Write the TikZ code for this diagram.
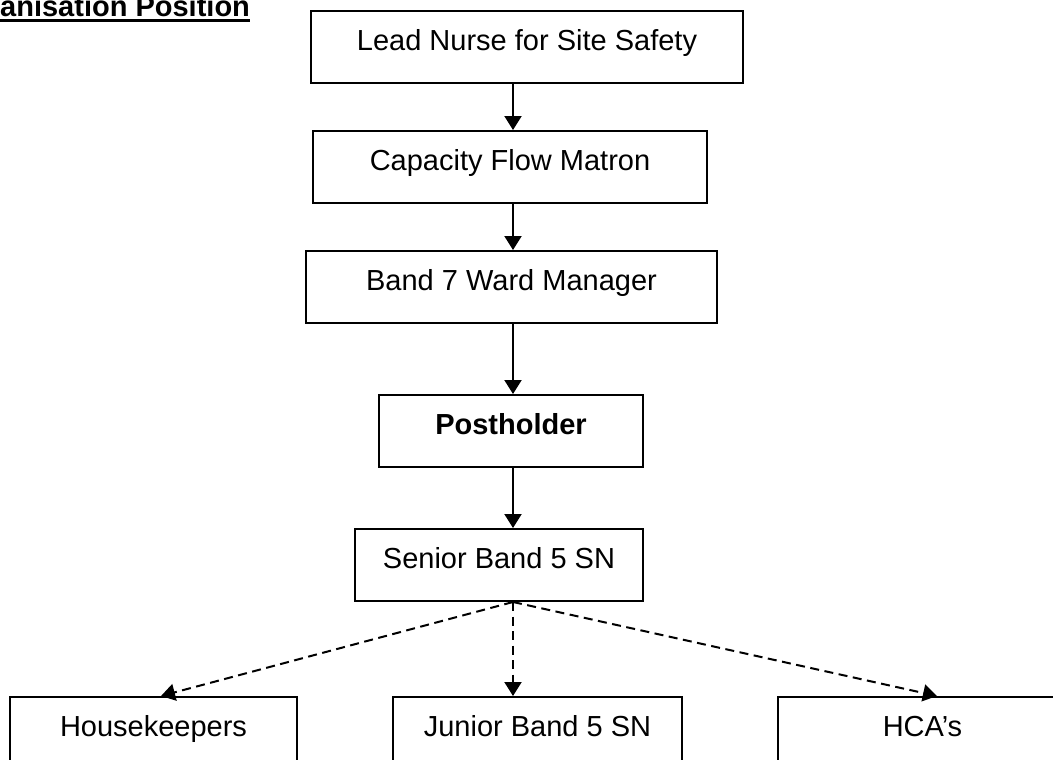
\documentclass[tikz,border=0pt]{standalone}
\usepackage{fontspec}
\setmainfont{Liberation Sans}
\usetikzlibrary{arrows.meta}
\begin{document}
\begin{tikzpicture}[x=1pt,y=-1pt,
  box/.style={draw,line width=2pt,rectangle,inner xsep=0pt,inner ysep=0pt,anchor=north,
    text height=39.5pt,text depth=32.5pt,font=\fontsize{29}{34}\selectfont},
  arr/.style={line width=2pt,-{Triangle[width=17pt,length=14pt]}},
  darr/.style={arr,dash pattern=on 9pt off 5.5pt}]
\useasboundingbox (0,0) rectangle (1053,760);
\clip (0,0) rectangle (1053,760);
\node[inner sep=0pt,anchor=base west,font=\fontsize{29}{34}\selectfont\bfseries] (title) at (0,17) {anisation Position};
\draw[line width=2.8pt] ([yshift=-3.8pt]title.base west) -- ([yshift=-3.8pt]title.base east);

\coordinate (spine) at (513,0);
\node[box,minimum width=432pt] (n1) at (527,10) {Lead Nurse for Site Safety};
\node[box,minimum width=394pt] (n2) at (510,130) {Capacity Flow Matron};
\node[box,minimum width=411pt] (n3) at (511.5,250) {Band 7 Ward Manager};
\node[box,minimum width=264pt] (n4) at (511,394) {\bfseries Postholder};
\node[box,minimum width=288pt] (n5) at (499,528) {Senior Band 5 SN};
\node[box,minimum width=287pt] (hk) at (153.5,696) {Housekeepers};
\node[box,minimum width=289pt] (jr) at (537.5,696) {Junior Band 5 SN};
\node[box,minimum width=289pt] (hca) at (922.5,696) {HCA’s};

\draw[arr] (n1.south -| spine) -- (n2.north -| spine);
\draw[arr] (n2.south -| spine) -- (n3.north -| spine);
\draw[arr] (n3.south -| spine) -- (n4.north -| spine);
\draw[arr] (n4.south -| spine) -- (n5.north -| spine);
\draw[darr] (n5.south -| spine) -- ([xshift=7.5pt]hk.north);
\draw[darr] (n5.south -| spine) -- (jr.north -| spine);
\draw[darr] (n5.south -| spine) -- ([xshift=14.5pt]hca.north);
\end{tikzpicture}
\end{document}
